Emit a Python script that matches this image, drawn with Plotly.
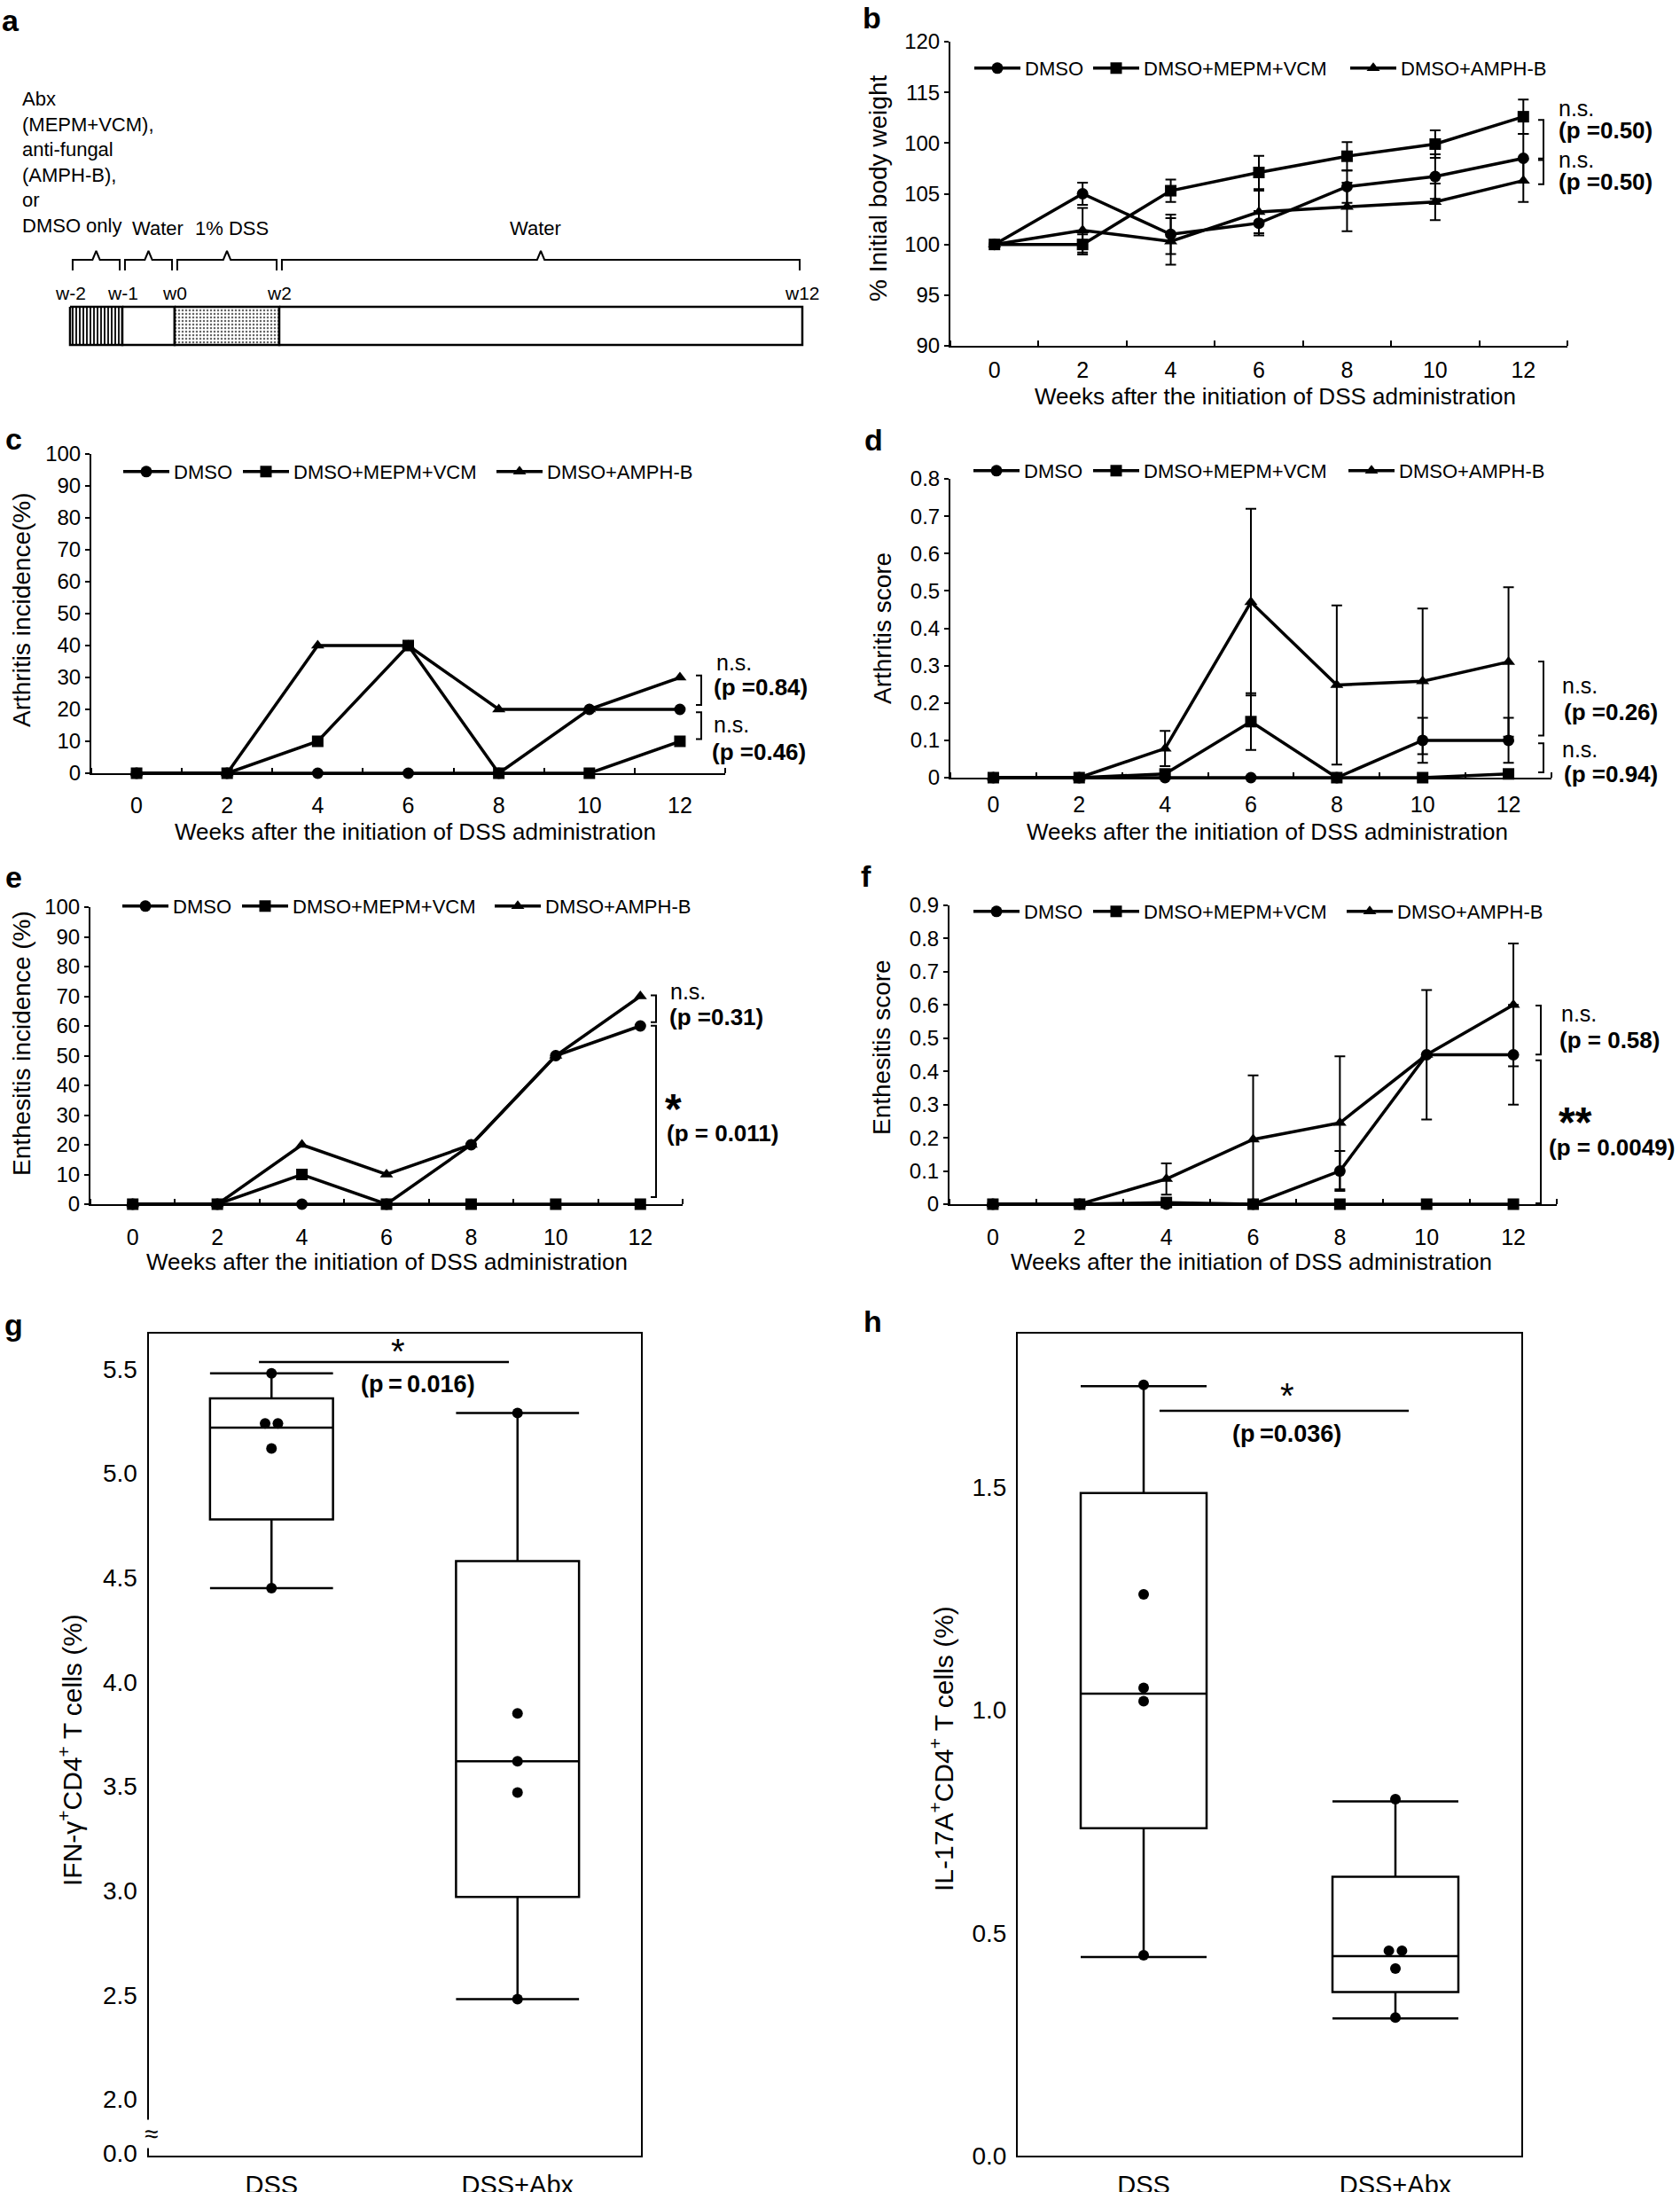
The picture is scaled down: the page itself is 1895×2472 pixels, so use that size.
import plotly.graph_objects as go

W, H = 1895, 2472
FONT = "Liberation Sans, Arial, Helvetica, sans-serif"


def fx(x):
    return x / W


def fy(y):
    return 1 - y / H


# ---------------- data ----------------
# panel a: schedule (weeks)
phase_bounds = [-2, -1, 0, 2, 12]
phase_labels = ["Abx<br>(MEPM+VCM),<br>anti-fungal<br>(AMPH-B),<br>or<br>DMSO only",
                "Water", "1% DSS", "Water"]
week_labels = ["w-2", "w-1", "w0", "w2", "w12"]

weeks = [0, 2, 4, 6, 8, 10, 12]
groups = ["DMSO", "DMSO+MEPM+VCM", "DMSO+AMPH-B"]
symbols = ["circle", "square", "triangle-up"]

# b: % initial body weight
b_dmso = [100.0, 105.0, 101.0, 102.1, 105.7, 106.7, 108.5]
b_mepm = [100.0, 100.0, 105.3, 107.1, 108.7, 109.9, 112.6]
b_amph = [100.0, 101.4, 100.3, 103.2, 103.7, 104.2, 106.3]
b_dmso_err = [0, 1.1, 1.95, 1.2, 1.6, 2.2, 2.4]
b_mepm_err = [0, 1.0, 1.1, 1.65, 1.4, 1.35, 1.7]
b_amph_err = [0, 2.2, 2.3, 2.1, 2.4, 1.8, 2.1]
b_ticks = [90, 95, 100, 105, 110, 115, 120]
b_ticktext = ["90", "95", "100", "105", "100", "115", "120"]

# c: arthritis incidence (%)
c_dmso = [0, 0, 0, 0, 0, 20, 20]
c_mepm = [0, 0, 10, 40, 0, 0, 10]
c_amph = [0, 0, 40, 40, 20, 20, 30]

# d: arthritis score
d_dmso = [0, 0, 0, 0, 0, 0.10, 0.10]
d_mepm = [0, 0, 0.01, 0.15, 0, 0, 0.01]
d_amph = [0, 0, 0.078, 0.47, 0.248, 0.258, 0.31]
d_dmso_err = [0, 0, 0, 0, 0, 0.06, 0.06]
d_mepm_err = [0, 0, 0, 0.076, 0, 0, 0]
d_amph_err = [0, 0, 0.047, 0.25, 0.213, 0.195, 0.20]

# e: enthesitis incidence (%)
e_dmso = [0, 0, 0, 0, 20, 50, 60]
e_mepm = [0, 0, 10, 0, 0, 0, 0]
e_amph = [0, 0, 20, 10, 20, 50, 70]

# f: enthesitis score
f_dmso = [0, 0, 0, 0, 0.10, 0.45, 0.45]
f_mepm = [0, 0, 0.005, 0, 0, 0, 0]
f_amph = [0, 0, 0.076, 0.195, 0.245, 0.45, 0.60]
f_dmso_err = [0, 0, 0, 0, 0.06, 0.195, 0.15]
f_mepm_err = [0, 0, 0, 0, 0, 0, 0]
f_amph_err = [0, 0, 0.047, 0.193, 0.20, 0, 0.185]

# g / h: box plots
box_categories = ["DSS", "DSS+Abx"]
g_points = [[5.48, 5.24, 5.24, 5.12, 4.45], [5.29, 3.85, 3.62, 3.47, 2.48]]
g_q1 = [4.78, 2.97]
g_median = [5.22, 3.62]
g_q3 = [5.36, 4.58]
g_lower = [4.45, 2.48]
g_upper = [5.48, 5.29]
g_ticks = [1.74, 2.0, 2.5, 3.0, 3.5, 4.0, 4.5, 5.0, 5.5]
g_ticktext = ["0.0", "2.0", "2.5", "3.0", "3.5", "4.0", "4.5", "5.0", "5.5"]

h_points = [[1.73, 1.26, 1.05, 1.02, 0.45], [0.80, 0.46, 0.46, 0.42, 0.31]]
h_q1 = [0.735, 0.367]
h_median = [1.037, 0.448]
h_q3 = [1.487, 0.626]
h_lower = [0.446, 0.308]
h_upper = [1.727, 0.795]
h_ticks = [0.0, 0.5, 1.0, 1.5]

# ---------------- figure ----------------
fig = go.Figure()
annotations = []
shapes = []
layout = dict(width=W, height=H, margin=dict(l=0, r=0, t=0, b=0, pad=0), autosize=False,
              template="none",
              paper_bgcolor="white", plot_bgcolor="white",
              font=dict(family=FONT, color="black", size=24), showlegend=True)


def ann(text, x, y, size=24, bold=False, xanchor="left", yanchor="middle", **kw):
    if bold:
        text = "<b>" + text + "</b>"
    d = dict(text=text, x=fx(x), y=fy(y), xref="paper", yref="paper", showarrow=False,
             xanchor=xanchor, yanchor=yanchor, font=dict(size=size, family=FONT, color="black"))
    d.update(kw)
    annotations.append(d)


# ---- panel a (schedule) ----
A_X0, A_PPW = 197, 59.0  # px of week 0, px per week
layout["xaxis"] = dict(domain=[0, fx(950)], range=[(0 - A_X0) / A_PPW, (950 - A_X0) / A_PPW],
                       visible=False, anchor="y", automargin=False)
layout["yaxis"] = dict(domain=[fy(420), 1], range=[420, 0], visible=False, anchor="x", automargin=False)
BAR_TOP, BAR_BOT = 346, 389
seg_patterns = [dict(shape="|", fgcolor="black", bgcolor="white", size=4, solidity=0.45), None,
                dict(shape=".", fgcolor="#666666", bgcolor="white", size=4, solidity=0.3), None]
label_shift = [0, 0.18, 0.1, -0.1]
for i in range(4):
    x0, x1 = phase_bounds[i], phase_bounds[i + 1]
    tr = go.Scatter(x=[x0, x1, x1, x0, x0], y=[BAR_TOP, BAR_TOP, BAR_BOT, BAR_BOT, BAR_TOP],
                    mode="lines", fill="toself", fillcolor="white",
                    line=dict(color="black", width=2.5), xaxis="x", yaxis="y",
                    showlegend=False, hoverinfo="skip")
    if seg_patterns[i]:
        tr.fillpattern = seg_patterns[i]
    fig.add_trace(tr)
    a = x0 + 0.05
    b = x1 - 0.05
    m = (a + b) / 2
    dd = 0.07
    fig.add_trace(go.Scatter(x=[a, a, m - dd, m, m + dd, b, b], y=[305, 293, 293, 283, 293, 293, 305],
                             mode="lines", line=dict(color="black", width=2), xaxis="x", yaxis="y",
                             showlegend=False, hoverinfo="skip"))
    if i == 0:
        annotations.append(dict(text=phase_labels[i], x=(23 - A_X0) / A_PPW, y=257, xref="x", yref="y",
                                showarrow=False, xanchor="left", yanchor="bottom", align="left",
                                yshift=-12,
                                font=dict(size=22, family=FONT, color="black")))
    else:
        annotations.append(dict(text=phase_labels[i], x=m + label_shift[i], y=257, xref="x", yref="y",
                                showarrow=False, xanchor="center", yanchor="middle",
                                font=dict(size=22, family=FONT, color="black")))
for wv, wl in zip(phase_bounds, week_labels):
    annotations.append(dict(text=wl, x=wv, y=330, xref="x", yref="y", showarrow=False,
                            xanchor="center", yanchor="middle",
                            font=dict(size=21, family=FONT, color="black")))

# ---- line panels b-f ----
panels = [
    dict(n=2, ys=[b_dmso, b_mepm, b_amph], errs=[b_dmso_err, b_mepm_err, b_amph_err],
         xdom=(1072, 1768), ydom=(47, 390), yrange=(90, 120), ytv=b_ticks, ytt=b_ticktext,
         ytitle="% Initial body weight", ytpos=(990, 213), xtpos=(1438, 447), xstand=4,
         leg_y=77, leg_x=(1099, 1233, 1523),
         brackets=[(1741, 112.28, 108.48), (1741, 108.33, 105.94)],
         texts=[("n.s.", 1756, 122, False, 25), ("(p =0.50)", 1756, 147, True, 26),
                ("n.s.", 1756, 180, False, 25), ("(p =0.50)", 1756, 205, True, 26)],
         letter=("b", 983, 20)),
    dict(n=3, ys=[c_dmso, c_mepm, c_amph], errs=None,
         xdom=(103, 818), ydom=(512, 872), yrange=(0, 100), ytv=list(range(0, 101, 10)), ytt=None,
         ytitle="Arthritis incidence(%)", ytpos=(24, 688), xtpos=(468, 938), xstand=13,
         leg_y=532, leg_x=(139, 274, 560),
         brackets=[(791, 30.6, 21.4), (791, 19.1, 10.7)],
         texts=[("n.s.", 806, 747, False, 25), ("(p =0.84)", 803, 775, True, 26),
                ("n.s.", 803, 817, False, 25), ("(p =0.46)", 801, 848, True, 26)],
         letter=("c", 15, 495)),
    dict(n=4, ys=[d_dmso, d_mepm, d_amph], errs=[d_dmso_err, d_mepm_err, d_amph_err],
         xdom=(1072, 1750), ydom=(540, 877), yrange=(0, 0.8), ytv=[0, 0.1, 0.2, 0.3, 0.4, 0.5, 0.6, 0.7, 0.8],
         ytt=["0", "0.1", "0.2", "0.3", "0.4", "0.5", "0.6", "0.7", "0.8"],
         ytitle="Arthritis score", ytpos=(995, 708), xtpos=(1429, 938), xstand=7,
         leg_y=531, leg_x=(1098, 1233, 1521),
         brackets=[(1741, 0.311, 0.113), (1741, 0.092, 0.014)],
         texts=[("n.s.", 1760, 773, False, 25), ("(p =0.26)", 1762, 803, True, 26),
                ("n.s.", 1760, 845, False, 25), ("(p =0.94)", 1762, 873, True, 26)],
         letter=("d", 985, 496)),
    dict(n=5, ys=[e_dmso, e_mepm, e_amph], errs=None,
         xdom=(102, 770), ydom=(1023, 1358), yrange=(0, 100), ytv=list(range(0, 101, 10)), ytt=None,
         ytitle="Enthesitis incidence (%)", ytpos=(24, 1177), xtpos=(436, 1423), xstand=14,
         leg_y=1022, leg_x=(138, 273, 558),
         brackets=[(740, 70.3, 61.3), (740, 60.1, 2.4)],
         texts=[("n.s.", 754, 1118, False, 25), ("(p =0.31)", 753, 1147, True, 26),
                ("*", 748, 1250, True, 48), ("(p = 0.011)", 750, 1278, True, 26)],
         letter=("e", 15, 989)),
    dict(n=6, ys=[f_dmso, f_mepm, f_amph], errs=[f_dmso_err, f_mepm_err, f_amph_err],
         xdom=(1071, 1756), ydom=(1021, 1358), yrange=(0, 0.9),
         ytv=[0, 0.1, 0.2, 0.3, 0.4, 0.5, 0.6, 0.7, 0.8, 0.9],
         ytt=["0", "0.1", "0.2", "0.3", "0.4", "0.5", "0.6", "0.7", "0.8", "0.9"],
         ytitle="Enthesitis score", ytpos=(995, 1181), xtpos=(1411, 1423), xstand=14,
         leg_y=1028, leg_x=(1098, 1233, 1519),
         brackets=[(1738, 0.598, 0.451), (1738, 0.433, 0.003)],
         texts=[("n.s.", 1759, 1143, False, 25), ("(p = 0.58)", 1757, 1173, True, 26),
                ("**", 1756, 1265, True, 48), ("(p = 0.0049)", 1745, 1294, True, 26)],
         letter=("f", 977, 988)),
]

leg_idx = 0
for P in panels:
    n = P["n"]
    for s in range(3):
        leg_idx += 1
        lg = "legend" if leg_idx == 1 else "legend%d" % leg_idx
        err = None
        if P["errs"] is not None:
            arr = [e if e > 0 else None for e in P["errs"][s]]
            err = dict(type="data", array=arr, visible=True, thickness=2, width=6, color="black")
        fig.add_trace(go.Scatter(
            x=weeks, y=P["ys"][s], error_y=err, mode="lines+markers", name=groups[s],
            line=dict(color="black", width=3.5),
            marker=dict(symbol=symbols[s], size=13, color="black"),
            xaxis="x%d" % n, yaxis="y%d" % n, legend=lg, cliponaxis=False, showlegend=True))
        layout[lg] = dict(x=fx(P["leg_x"][s] - 5), y=fy(P["leg_y"]), xanchor="left", yanchor="middle",
                          orientation="h", bgcolor="rgba(0,0,0,0)", itemwidth=52, borderwidth=0,
                          font=dict(size=22, family=FONT, color="black"))
    xd, yd = P["xdom"], P["ydom"]
    layout["xaxis%d" % n] = dict(
        domain=[fx(xd[0]), fx(xd[1])], range=[-1, 13], anchor="y%d" % n, automargin=False,
        tickvals=weeks, ticks="", showline=True, linecolor="black", linewidth=2,
        showgrid=False, zeroline=False, tickfont=dict(size=25), ticklabelstandoff=P["xstand"],
        minor=dict(tick0=1, dtick=2, ticks="inside", ticklen=6, tickcolor="black", tickwidth=2,
                   showgrid=False))
    ya = dict(domain=[fy(yd[1]), fy(yd[0])], range=list(P["yrange"]), anchor="x%d" % n, automargin=False,
              tickvals=P["ytv"], ticks="outside", ticklen=5, tickwidth=2, tickcolor="black",
              showline=True, linecolor="black", linewidth=2, showgrid=False, zeroline=False,
              tickfont=dict(size=24))
    if P["ytt"] is not None:
        ya["ticktext"] = P["ytt"]
    layout["yaxis%d" % n] = ya
    ann(P["ytitle"], P["ytpos"][0], P["ytpos"][1], size=28, xanchor="center", textangle=-90)
    ann("Weeks after the initiation of DSS administration", P["xtpos"][0], P["xtpos"][1], size=26,
        xanchor="center")
    for (bx, y1, y2) in P["brackets"]:
        shapes.append(dict(type="path",
                           path="M %f,%f L %f,%f L %f,%f L %f,%f" % (fx(bx - 6), y1, fx(bx), y1, fx(bx), y2,
                                                                     fx(bx - 6), y2),
                           xref="paper", yref="y%d" % n, line=dict(color="black", width=2)))
    for (t, tx, ty, bold, size) in P["texts"]:
        ann(t, tx, ty, size=size, bold=bold)
    L = P["letter"]
    ann(L[0], L[1], L[2], size=34, bold=True, xanchor="center")

ann("a", 12, 23, size=34, bold=True, xanchor="center")

# ---- box panels g, h ----
box_panels = [
    dict(n=7, pts=g_points, q1=g_q1, med=g_median, q3=g_q3, lo=g_lower, hi=g_upper,
         xdom=(167.5, 722.5), ydom=(1504, 2431), yrange=(1.73, 5.67), ytv=g_ticks, ytt=g_ticktext,
         ytitle="IFN-\u03b3<sup>+</sup>CD4<sup>+</sup> T cells (%)", ytpos=(79, 1974),
         sig=(-0.051, 0.965, 5.534), star=(0.513, 5.585), ptext=(0.596, 5.426, "(p\u2009=\u20090.016)"),
         letter=("g", 15, 1494)),
    dict(n=8, pts=h_points, q1=h_q1, med=h_median, q3=h_q3, lo=h_lower, hi=h_upper,
         xdom=(1148, 1716), ydom=(1504, 2431), yrange=(0, 1.845), ytv=h_ticks,
         ytt=["0.0", "0.5", "1.0", "1.5"],
         ytitle="IL-17A<sup>+</sup>CD4<sup>+</sup> T cells (%)", ytpos=(1062, 1972),
         sig=(0.063, 1.053, 1.672), star=(0.57, 1.705), ptext=(0.57, 1.621, "(p\u2009=0.036)"),
         letter=("h", 984, 1490)),
]

for B in box_panels:
    n = B["n"]
    for ci in range(len(box_categories)):
        fig.add_trace(go.Box(
            x=[ci], q1=[B["q1"][ci]], median=[B["med"][ci]], q3=[B["q3"][ci]],
            lowerfence=[B["lo"][ci]], upperfence=[B["hi"][ci]], width=0.5, whiskerwidth=1,
            fillcolor="white", line=dict(color="black", width=2.5), boxpoints=False,
            xaxis="x%d" % n, yaxis="y%d" % n, showlegend=False, hoverinfo="skip"))
        vals = B["pts"][ci]
        xs = []
        for k, v in enumerate(vals):
            same = [j for j, u in enumerate(vals) if abs(u - v) < 1e-9]
            if len(same) > 1:
                pos = same.index(k)
                xs.append(ci + (pos - (len(same) - 1) / 2) * 0.052)
            else:
                xs.append(ci)
        fig.add_trace(go.Scatter(x=xs, y=vals, mode="markers",
                                 marker=dict(color="black", size=12), xaxis="x%d" % n, yaxis="y%d" % n,
                                 showlegend=False, hoverinfo="skip", cliponaxis=False))
    xd, yd = B["xdom"], B["ydom"]
    layout["xaxis%d" % n] = dict(domain=[fx(xd[0]), fx(xd[1])], range=[-0.5, 1.5], anchor="y%d" % n,
                                 automargin=False,
                                 tickvals=list(range(len(box_categories))), ticktext=box_categories,
                                 ticks="", showline=True, mirror=True, linecolor="black", linewidth=2,
                                 showgrid=False, zeroline=False, tickfont=dict(size=29),
                                 ticklabelstandoff=6)
    layout["yaxis%d" % n] = dict(domain=[fy(yd[1]), fy(yd[0])], range=list(B["yrange"]), anchor="x%d" % n,
                                 automargin=False,
                                 tickvals=B["ytv"], ticktext=B["ytt"], ticks="", showline=True, mirror=True,
                                 linecolor="black", linewidth=2, showgrid=False, zeroline=False,
                                 tickfont=dict(size=28), ticklabelstandoff=5)
    x0, x1, ys = B["sig"]
    shapes.append(dict(type="line", x0=x0, x1=x1, y0=ys, y1=ys, xref="x%d" % n, yref="y%d" % n,
                       line=dict(color="black", width=2.5)))
    annotations.append(dict(text="*", x=B["star"][0], y=B["star"][1], xref="x%d" % n, yref="y%d" % n,
                            showarrow=False, xanchor="center", yanchor="middle",
                            font=dict(size=40, family=FONT, color="black")))
    annotations.append(dict(text="<b>" + B["ptext"][2] + "</b>", x=B["ptext"][0], y=B["ptext"][1],
                            xref="x%d" % n, yref="y%d" % n, showarrow=False, xanchor="center",
                            yanchor="middle", font=dict(size=27, family=FONT, color="black")))
    ann(B["ytitle"], B["ytpos"][0], B["ytpos"][1], size=30, xanchor="center", textangle=-90)
    L = B["letter"]
    ann(L[0], L[1], L[2], size=34, bold=True, xanchor="center")

# axis break mark on g
ann("\u2248", 170, 2406, size=28, xanchor="center", bgcolor="white", borderpad=0)

layout["annotations"] = annotations
layout["shapes"] = shapes
fig.update_layout(**layout)
fig.write_html("out.html", config={"displayModeBar": False},
               post_script="document.body.style.margin='0px';")
